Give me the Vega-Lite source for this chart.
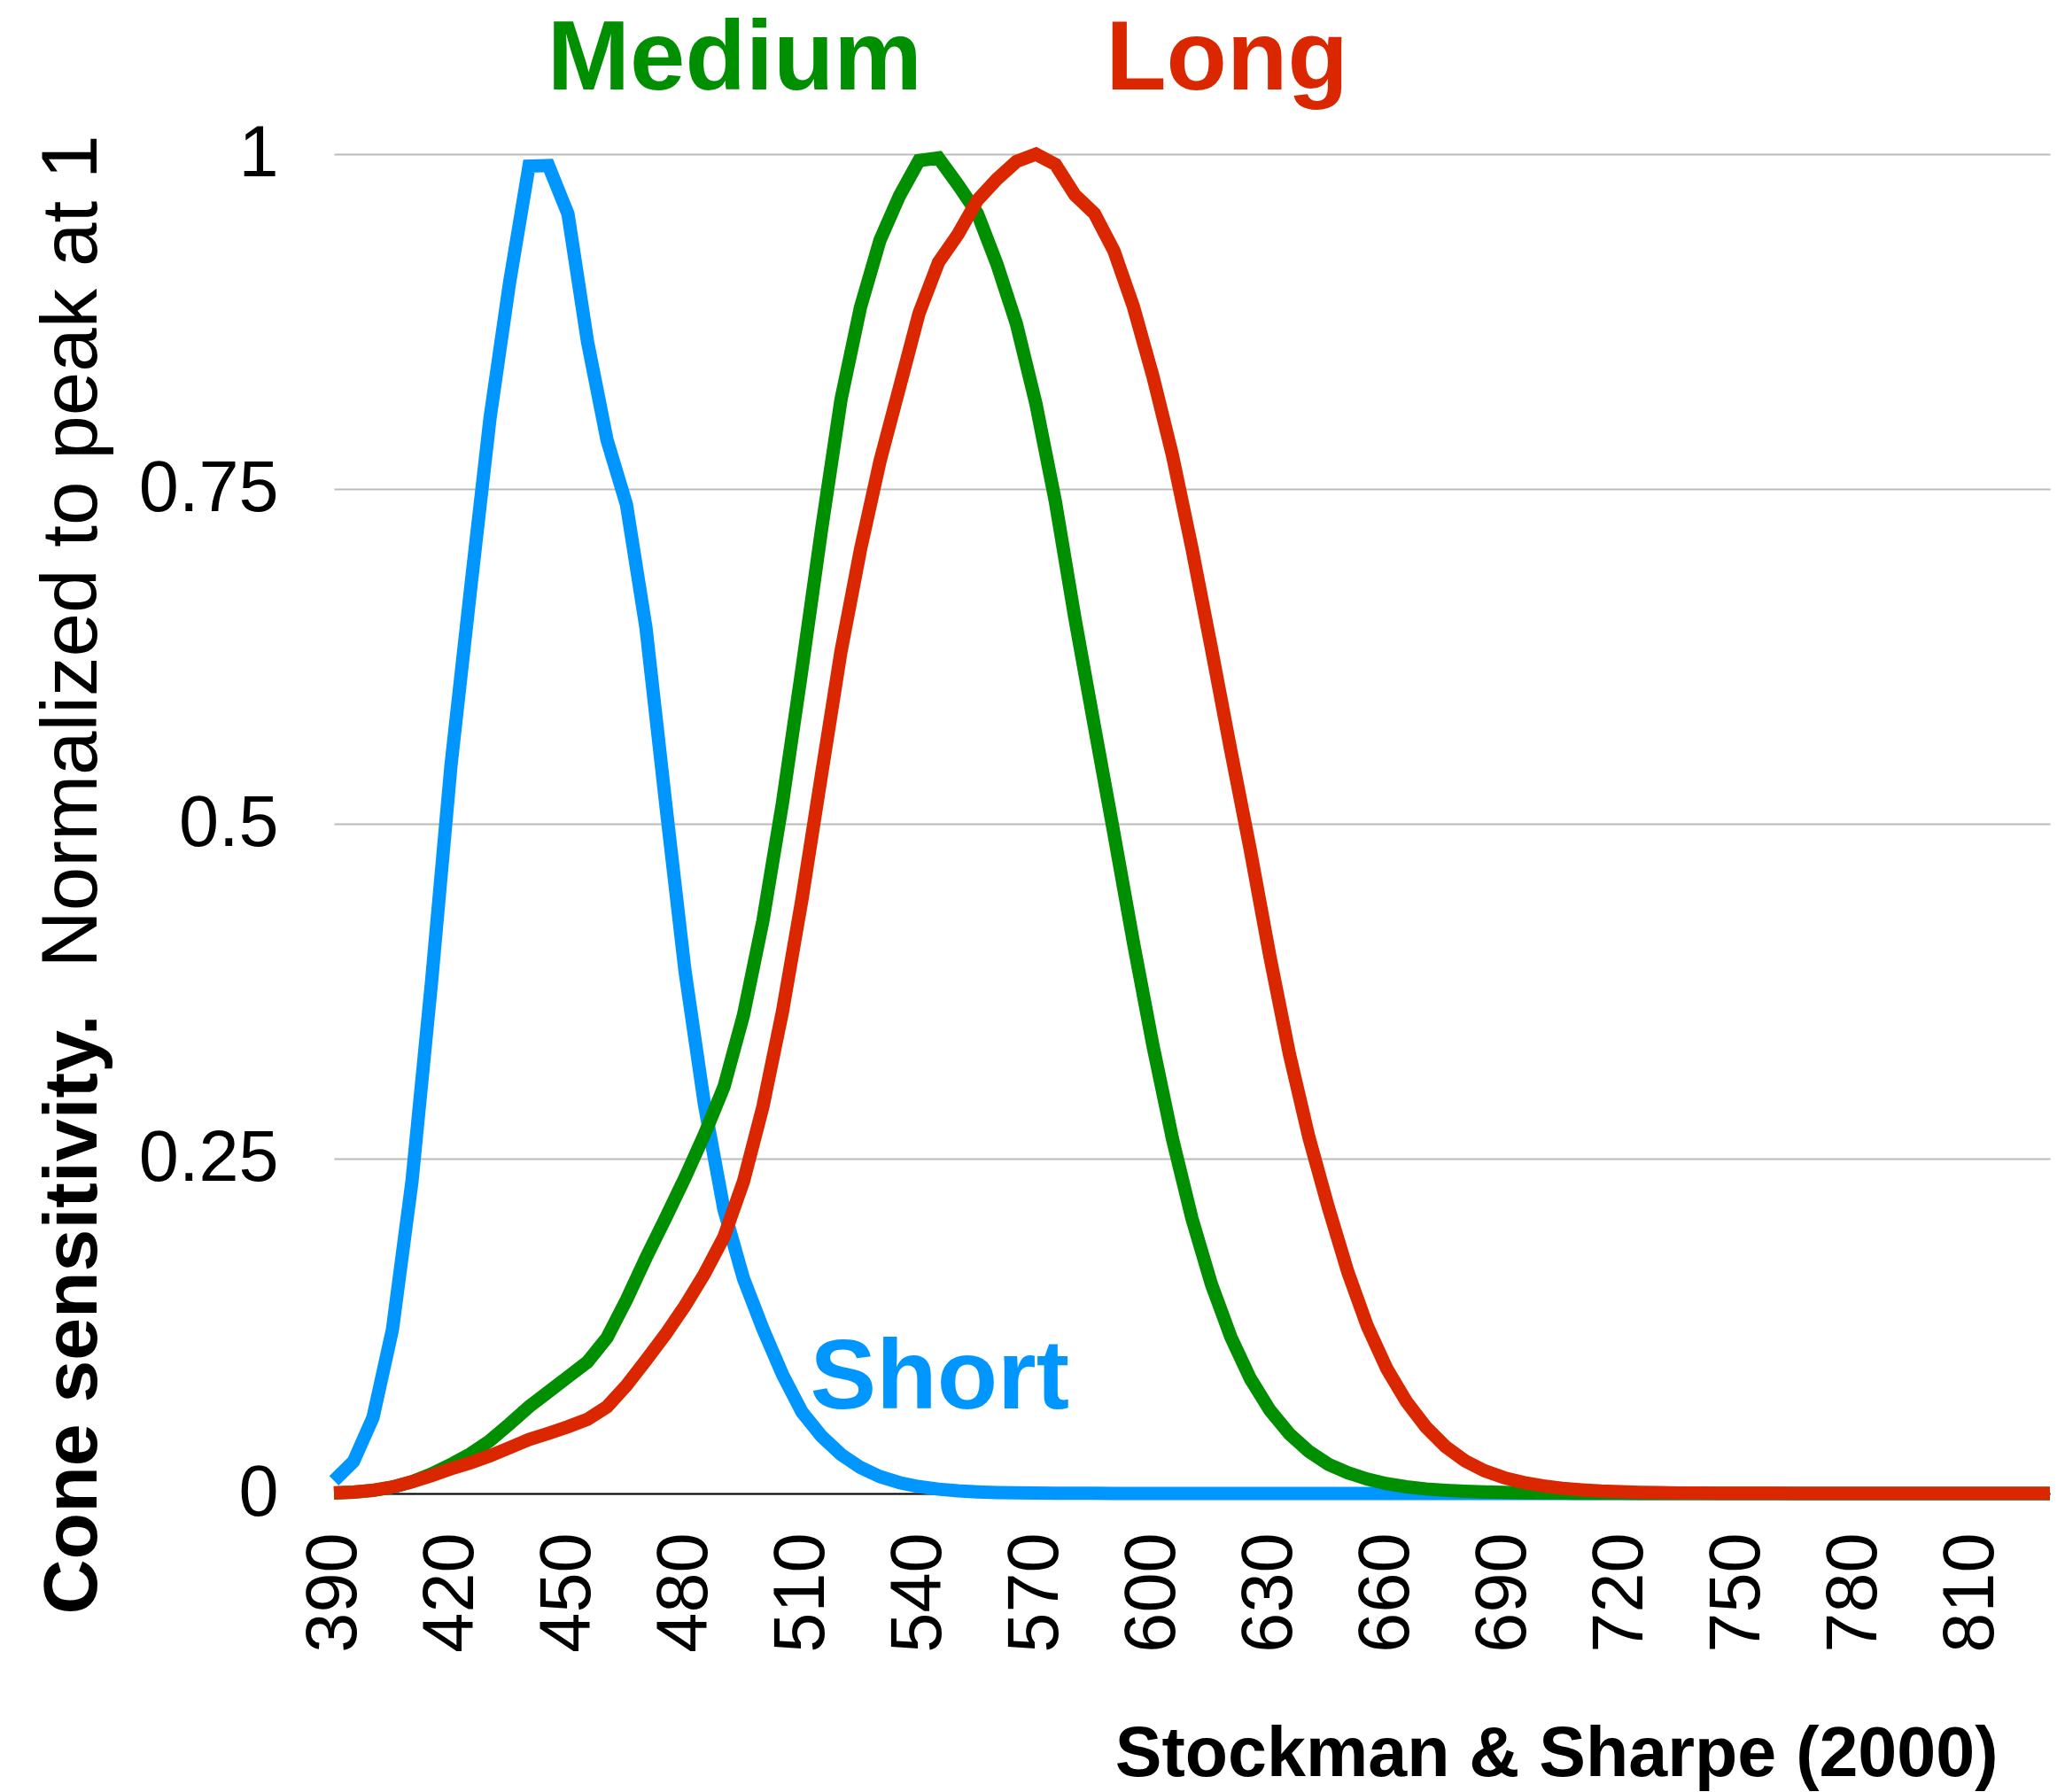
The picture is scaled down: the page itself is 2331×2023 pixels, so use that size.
{
  "$schema": "https://vega.github.io/schema/vega-lite/v6.json",
  "width": 1937,
  "height": 1512,
  "autosize": {"type": "none"},
  "padding": {"left": 377, "top": 174, "right": 17, "bottom": 337},
  "background": "white",
  "config": {
    "view": {"stroke": null},
    "font": "Liberation Sans"
  },
  "datasets": {
    "cones": [
      {"nm":390,"c":"S","v":0.00955},{"nm":395,"c":"S","v":0.02383},{"nm":400,"c":"S","v":0.05665},{"nm":405,"c":"S","v":0.1225},{"nm":410,"c":"S","v":0.233},{"nm":415,"c":"S","v":0.3814},{"nm":420,"c":"S","v":0.5436},{"nm":425,"c":"S","v":0.6745},{"nm":430,"c":"S","v":0.8026},{"nm":435,"c":"S","v":0.9036},{"nm":440,"c":"S","v":0.991},{"nm":445,"c":"S","v":0.9915},{"nm":450,"c":"S","v":0.9554},{"nm":455,"c":"S","v":0.8602},{"nm":460,"c":"S","v":0.7867},{"nm":465,"c":"S","v":0.7383},{"nm":470,"c":"S","v":0.6464},{"nm":475,"c":"S","v":0.5164},{"nm":480,"c":"S","v":0.3903},{"nm":485,"c":"S","v":0.2903},{"nm":490,"c":"S","v":0.2119},{"nm":495,"c":"S","v":0.1605},{"nm":500,"c":"S","v":0.1228},{"nm":505,"c":"S","v":0.0889},{"nm":510,"c":"S","v":0.0608},{"nm":515,"c":"S","v":0.0428},{"nm":520,"c":"S","v":0.0292},{"nm":525,"c":"S","v":0.0194},{"nm":530,"c":"S","v":0.0126},{"nm":535,"c":"S","v":0.0081},{"nm":540,"c":"S","v":0.0051},{"nm":545,"c":"S","v":0.0032},{"nm":550,"c":"S","v":0.002},{"nm":555,"c":"S","v":0.0012},{"nm":560,"c":"S","v":0.0007},{"nm":565,"c":"S","v":0.0005},{"nm":570,"c":"S","v":0.0003},{"nm":575,"c":"S","v":0.0002},{"nm":580,"c":"S","v":0.0001},{"nm":585,"c":"S","v":0.0001},{"nm":590,"c":"S","v":0},{"nm":595,"c":"S","v":0},{"nm":600,"c":"S","v":0},{"nm":605,"c":"S","v":0},{"nm":610,"c":"S","v":0},{"nm":615,"c":"S","v":0},{"nm":620,"c":"S","v":0},{"nm":625,"c":"S","v":0},{"nm":630,"c":"S","v":0},{"nm":635,"c":"S","v":0},{"nm":640,"c":"S","v":0},{"nm":645,"c":"S","v":0},{"nm":650,"c":"S","v":0},{"nm":655,"c":"S","v":0},{"nm":660,"c":"S","v":0},{"nm":665,"c":"S","v":0},{"nm":670,"c":"S","v":0},{"nm":675,"c":"S","v":0},{"nm":680,"c":"S","v":0},{"nm":685,"c":"S","v":0},{"nm":690,"c":"S","v":0},{"nm":695,"c":"S","v":0},{"nm":700,"c":"S","v":0},{"nm":705,"c":"S","v":0},{"nm":710,"c":"S","v":0},{"nm":715,"c":"S","v":0},{"nm":720,"c":"S","v":0},{"nm":725,"c":"S","v":0},{"nm":730,"c":"S","v":0},{"nm":735,"c":"S","v":0},{"nm":740,"c":"S","v":0},{"nm":745,"c":"S","v":0},{"nm":750,"c":"S","v":0},{"nm":755,"c":"S","v":0},{"nm":760,"c":"S","v":0},{"nm":765,"c":"S","v":0},{"nm":770,"c":"S","v":0},{"nm":775,"c":"S","v":0},{"nm":780,"c":"S","v":0},{"nm":785,"c":"S","v":0},{"nm":790,"c":"S","v":0},{"nm":795,"c":"S","v":0},{"nm":800,"c":"S","v":0},{"nm":805,"c":"S","v":0},{"nm":810,"c":"S","v":0},{"nm":815,"c":"S","v":0},{"nm":820,"c":"S","v":0},{"nm":825,"c":"S","v":0},{"nm":830,"c":"S","v":0},
      {"nm":390,"c":"M","v":0.00037},{"nm":395,"c":"M","v":0.00096},{"nm":400,"c":"M","v":0.00227},{"nm":405,"c":"M","v":0.0047},{"nm":410,"c":"M","v":0.00879},{"nm":415,"c":"M","v":0.01453},{"nm":420,"c":"M","v":0.02166},{"nm":425,"c":"M","v":0.02957},{"nm":430,"c":"M","v":0.03946},{"nm":435,"c":"M","v":0.05182},{"nm":440,"c":"M","v":0.06478},{"nm":445,"c":"M","v":0.07588},{"nm":450,"c":"M","v":0.08705},{"nm":455,"c":"M","v":0.09819},{"nm":460,"c":"M","v":0.1163},{"nm":465,"c":"M","v":0.1445},{"nm":470,"c":"M","v":0.1759},{"nm":475,"c":"M","v":0.2054},{"nm":480,"c":"M","v":0.2358},{"nm":485,"c":"M","v":0.2681},{"nm":490,"c":"M","v":0.3036},{"nm":495,"c":"M","v":0.3571},{"nm":500,"c":"M","v":0.4278},{"nm":505,"c":"M","v":0.5156},{"nm":510,"c":"M","v":0.6155},{"nm":515,"c":"M","v":0.7192},{"nm":520,"c":"M","v":0.8166},{"nm":525,"c":"M","v":0.8856},{"nm":530,"c":"M","v":0.9357},{"nm":535,"c":"M","v":0.9689},{"nm":540,"c":"M","v":0.9952},{"nm":545,"c":"M","v":0.9972},{"nm":550,"c":"M","v":0.9772},{"nm":555,"c":"M","v":0.9556},{"nm":560,"c":"M","v":0.9178},{"nm":565,"c":"M","v":0.8732},{"nm":570,"c":"M","v":0.8135},{"nm":575,"c":"M","v":0.7403},{"nm":580,"c":"M","v":0.6533},{"nm":585,"c":"M","v":0.5726},{"nm":590,"c":"M","v":0.4926},{"nm":595,"c":"M","v":0.4112},{"nm":600,"c":"M","v":0.3344},{"nm":605,"c":"M","v":0.2649},{"nm":610,"c":"M","v":0.2053},{"nm":615,"c":"M","v":0.1562},{"nm":620,"c":"M","v":0.1166},{"nm":625,"c":"M","v":0.0856},{"nm":630,"c":"M","v":0.0621},{"nm":635,"c":"M","v":0.0445},{"nm":640,"c":"M","v":0.0314},{"nm":645,"c":"M","v":0.0218},{"nm":650,"c":"M","v":0.0154},{"nm":655,"c":"M","v":0.0107},{"nm":660,"c":"M","v":0.0073},{"nm":665,"c":"M","v":0.005},{"nm":670,"c":"M","v":0.0034},{"nm":675,"c":"M","v":0.0024},{"nm":680,"c":"M","v":0.0016},{"nm":685,"c":"M","v":0.0011},{"nm":690,"c":"M","v":0.0008},{"nm":695,"c":"M","v":0.0005},{"nm":700,"c":"M","v":0.0004},{"nm":705,"c":"M","v":0.0003},{"nm":710,"c":"M","v":0.0002},{"nm":715,"c":"M","v":0.0001},{"nm":720,"c":"M","v":0.0001},{"nm":725,"c":"M","v":0},{"nm":730,"c":"M","v":0},{"nm":735,"c":"M","v":0},{"nm":740,"c":"M","v":0},{"nm":745,"c":"M","v":0},{"nm":750,"c":"M","v":0},{"nm":755,"c":"M","v":0},{"nm":760,"c":"M","v":0},{"nm":765,"c":"M","v":0},{"nm":770,"c":"M","v":0},{"nm":775,"c":"M","v":0},{"nm":780,"c":"M","v":0},{"nm":785,"c":"M","v":0},{"nm":790,"c":"M","v":0},{"nm":795,"c":"M","v":0},{"nm":800,"c":"M","v":0},{"nm":805,"c":"M","v":0},{"nm":810,"c":"M","v":0},{"nm":815,"c":"M","v":0},{"nm":820,"c":"M","v":0},{"nm":825,"c":"M","v":0},{"nm":830,"c":"M","v":0},
      {"nm":390,"c":"L","v":0.00042},{"nm":395,"c":"L","v":0.00105},{"nm":400,"c":"L","v":0.00241},{"nm":405,"c":"L","v":0.00483},{"nm":410,"c":"L","v":0.00872},{"nm":415,"c":"L","v":0.01338},{"nm":420,"c":"L","v":0.01845},{"nm":425,"c":"L","v":0.02293},{"nm":430,"c":"L","v":0.02819},{"nm":435,"c":"L","v":0.03411},{"nm":440,"c":"L","v":0.04026},{"nm":445,"c":"L","v":0.04494},{"nm":450,"c":"L","v":0.04986},{"nm":455,"c":"L","v":0.05534},{"nm":460,"c":"L","v":0.06472},{"nm":465,"c":"L","v":0.08069},{"nm":470,"c":"L","v":0.09948},{"nm":475,"c":"L","v":0.1188},{"nm":480,"c":"L","v":0.1401},{"nm":485,"c":"L","v":0.164},{"nm":490,"c":"L","v":0.1916},{"nm":495,"c":"L","v":0.2329},{"nm":500,"c":"L","v":0.289},{"nm":505,"c":"L","v":0.3597},{"nm":510,"c":"L","v":0.4437},{"nm":515,"c":"L","v":0.5365},{"nm":520,"c":"L","v":0.6286},{"nm":525,"c":"L","v":0.7047},{"nm":530,"c":"L","v":0.7706},{"nm":535,"c":"L","v":0.8257},{"nm":540,"c":"L","v":0.881},{"nm":545,"c":"L","v":0.9191},{"nm":550,"c":"L","v":0.9402},{"nm":555,"c":"L","v":0.9657},{"nm":560,"c":"L","v":0.9814},{"nm":565,"c":"L","v":0.9945},{"nm":570,"c":"L","v":1.0},{"nm":575,"c":"L","v":0.9923},{"nm":580,"c":"L","v":0.9694},{"nm":585,"c":"L","v":0.9556},{"nm":590,"c":"L","v":0.9277},{"nm":595,"c":"L","v":0.886},{"nm":600,"c":"L","v":0.834},{"nm":605,"c":"L","v":0.7751},{"nm":610,"c":"L","v":0.7057},{"nm":615,"c":"L","v":0.6308},{"nm":620,"c":"L","v":0.5542},{"nm":625,"c":"L","v":0.4799},{"nm":630,"c":"L","v":0.4007},{"nm":635,"c":"L","v":0.3279},{"nm":640,"c":"L","v":0.2658},{"nm":645,"c":"L","v":0.2133},{"nm":650,"c":"L","v":0.1651},{"nm":655,"c":"L","v":0.1247},{"nm":660,"c":"L","v":0.093},{"nm":665,"c":"L","v":0.0686},{"nm":670,"c":"L","v":0.0496},{"nm":675,"c":"L","v":0.035},{"nm":680,"c":"L","v":0.0244},{"nm":685,"c":"L","v":0.0169},{"nm":690,"c":"L","v":0.0118},{"nm":695,"c":"L","v":0.0082},{"nm":700,"c":"L","v":0.0057},{"nm":705,"c":"L","v":0.0039},{"nm":710,"c":"L","v":0.0027},{"nm":715,"c":"L","v":0.0018},{"nm":720,"c":"L","v":0.0013},{"nm":725,"c":"L","v":0.0009},{"nm":730,"c":"L","v":0.0006},{"nm":735,"c":"L","v":0.0004},{"nm":740,"c":"L","v":0.0003},{"nm":745,"c":"L","v":0.0002},{"nm":750,"c":"L","v":0.0001},{"nm":755,"c":"L","v":0.0001},{"nm":760,"c":"L","v":0.0001},{"nm":765,"c":"L","v":0},{"nm":770,"c":"L","v":0},{"nm":775,"c":"L","v":0},{"nm":780,"c":"L","v":0},{"nm":785,"c":"L","v":0},{"nm":790,"c":"L","v":0},{"nm":795,"c":"L","v":0},{"nm":800,"c":"L","v":0},{"nm":805,"c":"L","v":0},{"nm":810,"c":"L","v":0},{"nm":815,"c":"L","v":0},{"nm":820,"c":"L","v":0},{"nm":825,"c":"L","v":0},{"nm":830,"c":"L","v":0}
    ],
    "labels": [
      {"c": "M", "label": "Medium", "nm": 444.7, "v": 1.048},
      {"c": "L", "label": "Long", "nm": 587.9, "v": 1.048},
      {"c": "S", "label": "Short", "nm": 512.1, "v": 0.0635}
    ]
  },
  "encoding": {
    "x": {
      "field": "nm",
      "type": "quantitative",
      "scale": {"domain": [390, 830], "nice": false, "zero": false},
      "axis": {
        "title": "Stockman & Sharpe (2000)",
        "titleFont": "Liberation Sans",
        "titleFontSize": 79,
        "titleFontWeight": "bold",
        "titleColor": "black",
        "titleAlign": "right",
        "titleBaseline": "alphabetic",
        "titleX": 1878,
        "titleY": 318,
        "values": [390, 420, 450, 480, 510, 540, 570, 600, 630, 660, 690, 720, 750, 780, 810],
        "format": "d",
        "labelAngle": 270,
        "labelFont": "Liberation Sans",
        "labelFontSize": 81,
        "labelColor": "black",
        "labelPadding": 44,
        "labelFlush": false,
        "labelOverlap": false,
        "ticks": false,
        "tickSize": 0,
        "grid": false,
        "domain": true,
        "domainColor": "black",
        "domainWidth": 2
      }
    }
  },
  "layer": [
    {
      "data": {"name": "cones"},
      "mark": {"type": "line", "strokeWidth": 15, "strokeCap": "butt", "strokeJoin": "miter"},
      "encoding": {
        "y": {
          "field": "v",
          "type": "quantitative",
          "scale": {"domain": [0, 1], "nice": false},
          "axis": {
            "orient": "left",
            "values": [0, 0.25, 0.5, 0.75, 1],
            "format": ".2~f",
            "labelFont": "Liberation Sans",
            "labelFontSize": 81,
            "labelColor": "black",
            "labelPadding": 63,
            "labelFlush": false,
            "labelOverlap": false,
            "ticks": false,
            "tickSize": 0,
            "domain": false,
            "grid": true,
            "gridColor": "#BBBBBB",
            "gridWidth": 2,
            "title": "Normalized to peak at 1",
            "titleFont": "Liberation Sans",
            "titleFontSize": 89,
            "titleFontWeight": "normal",
            "titleColor": "black",
            "titleAngle": 270,
            "titleAlign": "left",
            "titleBaseline": "alphabetic",
            "titleX": -269,
            "titleY": 918
          }
        },
        "color": {
          "field": "c",
          "type": "nominal",
          "scale": {"domain": ["S", "M", "L"], "range": ["#0096FF", "#008F00", "#DA2700"]},
          "legend": null
        }
      }
    },
    {
      "data": {"name": "labels"},
      "mark": {"type": "text", "align": "left", "baseline": "alphabetic", "font": "Liberation Sans", "fontWeight": "bold", "fontSize": 112},
      "encoding": {
        "y": {
          "field": "v",
          "type": "quantitative",
          "scale": {"domain": [0, 1], "nice": false},
          "axis": {
            "orient": "right",
            "labels": false,
            "ticks": false,
            "domain": false,
            "grid": false,
            "title": "Cone sensitivity.",
            "titleFont": "Liberation Sans",
            "titleFontSize": 86,
            "titleFontWeight": "bold",
            "titleColor": "black",
            "titleAngle": 270,
            "titleAlign": "left",
            "titleBaseline": "alphabetic",
            "titleX": -2206,
            "titleY": 1648
          }
        },
        "text": {"field": "label", "type": "nominal"},
        "color": {
          "field": "c",
          "type": "nominal",
          "scale": {"domain": ["S", "M", "L"], "range": ["#0096FF", "#008F00", "#DA2700"]},
          "legend": null
        }
      }
    }
  ],
  "resolve": {"axis": {"y": "independent"}}
}
